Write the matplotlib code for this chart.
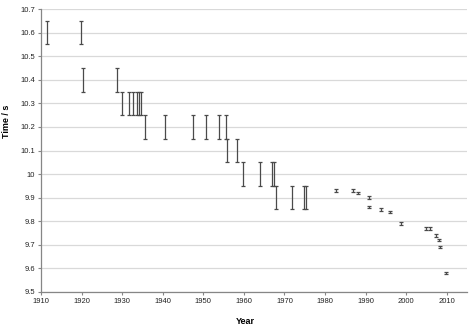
import matplotlib
matplotlib.use('Agg')
import matplotlib.pyplot as plt

plt.rcParams['font.family'] = ['Liberation Sans', 'DejaVu Sans']

# hand timed records (+/- 0.05 s)
hand_years = [1911.6, 1919.75, 1920.25, 1928.7, 1929.85, 1931.6, 1932.6, 1933.7,
              1934.1, 1934.6, 1935.6, 1940.5, 1947.4, 1950.7, 1953.8, 1955.6,
              1955.8, 1958.4, 1959.7, 1964.0, 1966.9, 1967.5, 1967.8, 1971.8,
              1974.9, 1975.4]
hand_times = [10.6, 10.6, 10.4, 10.4, 10.3, 10.3, 10.3, 10.3, 10.3, 10.3, 10.2,
              10.2, 10.2, 10.2, 10.2, 10.2, 10.1, 10.1, 10.0, 10.0, 10.0, 10.0,
              9.9, 9.9, 9.9, 9.9]
hand_err = 0.05

# electronic timed records (+/- 0.005 s)
elec_years = [1982.8, 1986.9, 1988.1, 1990.8, 1990.8, 1993.8, 1995.9, 1998.8,
              2004.8, 2005.8, 2007.3, 2008.1, 2008.35, 2009.75]
elec_times = [9.93, 9.93, 9.92, 9.90, 9.86, 9.85, 9.84, 9.79, 9.77, 9.77, 9.74,
              9.72, 9.69, 9.58]
elec_err = 0.005

fig = plt.figure(figsize=(4.74, 3.27), dpi=100)
ax = fig.add_axes([41/474, 1-292/327, 426/474, 283/327])

col = '#4a4a4a'
ax.errorbar(hand_years, hand_times, yerr=hand_err, fmt='none', ecolor=col,
            elinewidth=0.9, capsize=1.4, capthick=0.9, zorder=3)
ax.errorbar(elec_years, elec_times, yerr=elec_err, fmt='none', ecolor=col,
            elinewidth=0.9, capsize=1.4, capthick=0.9, zorder=3)

ax.set_xlim(1910, 2015)
ax.set_ylim(9.5, 10.7)
ax.set_xticks(range(1910, 2011, 10))
yt = [9.5, 9.6, 9.7, 9.8, 9.9, 10.0, 10.1, 10.2, 10.3, 10.4, 10.5, 10.6, 10.7]
ax.set_yticks(yt)
ax.set_yticklabels(['%g' % v for v in yt])
ax.yaxis.grid(True, color='#d9d9d9', linewidth=0.9)
ax.set_axisbelow(True)

for s in ['top', 'right']:
    ax.spines[s].set_visible(False)
for s in ['left', 'bottom']:
    ax.spines[s].set_color('#868686')
    ax.spines[s].set_linewidth(0.9)
ax.tick_params(axis='both', labelsize=5.5, colors='#868686', labelcolor='#222222',
               length=2.2, width=0.8, pad=2)

ax.set_xlabel('Year', fontsize=6.5, fontweight='bold')
ax.set_ylabel('Time / s', fontsize=6.5, fontweight='bold')
ax.xaxis.set_label_coords(0.479, -0.087)
ax.yaxis.set_label_coords(-0.070, 0.604)

fig.savefig('out.png', dpi=100)
